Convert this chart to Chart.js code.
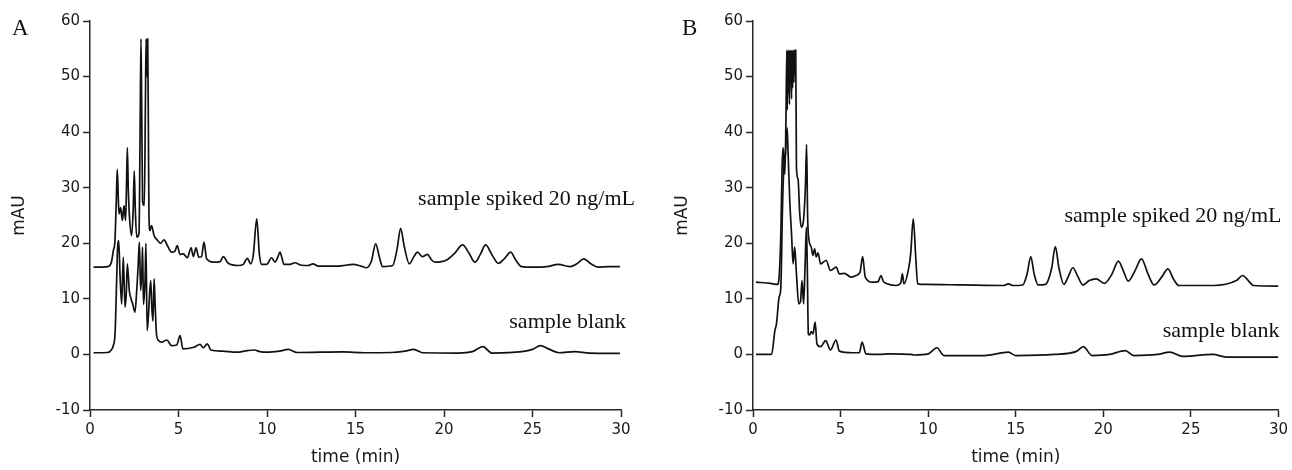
<!DOCTYPE html>
<html><head><meta charset="utf-8">
<script src="https://cdn.jsdelivr.net/npm/chart.js@4.4.1/dist/chart.umd.min.js"></script>
<style>
html,body{margin:0;padding:0;background:#fff;}
body{width:1292px;height:470px;position:relative;overflow:hidden;}
#wa{position:absolute;left:0;top:0;width:646px;height:470px;}
#wb{position:absolute;left:663px;top:0;width:629px;height:470px;}
</style></head><body>
<div id="wa"><canvas id="ca" width="646" height="470"></canvas></div>
<div id="wb"><canvas id="cb" width="629" height="470"></canvas></div>
<script>
// ---- tick labels ----
const xTicks = [0, 5, 10, 15, 20, 25, 30];
const yTicks = [-10, 0, 10, 20, 30, 40, 50, 60];
const xTitle = 'time (min)';
const yTitle = 'mAU';
const seriesNames = ['sample spiked 20 ng/mL', 'sample blank'];

// ---- Panel A, spiked sample ----
const aSpikedTime = [0.2,1.0,1.2,1.32,1.41,1.48,1.54,1.6,1.64,1.73,1.83,1.92,2.01,2.06,2.11,2.16,2.22,2.35,2.44,2.5,2.56,2.64,2.77,2.83,2.88,2.92,2.97,3.07,3.13,3.17,3.22,3.26,3.3,3.33,3.39,3.48,3.62,3.8,3.99,4.18,4.37,4.61,4.8,4.93,5.08,5.27,5.5,5.71,5.84,5.99,6.14,6.3,6.44,6.59,6.97,7.35,7.53,7.81,8.38,8.66,8.89,9.08,9.23,9.42,9.57,9.7,9.98,10.26,10.45,10.6,10.73,10.85,10.96,11.3,11.58,11.9,12.3,12.6,12.9,14.0,14.88,15.3,15.63,15.9,16.14,16.35,16.53,17.1,17.35,17.55,17.75,18.04,18.3,18.5,18.79,19.06,19.3,19.49,20.15,20.6,21.05,21.4,21.75,22.05,22.35,22.7,23.07,23.4,23.77,24.05,24.39,25.05,25.8,26.46,27.12,27.5,27.9,28.3,28.7,29.3,29.94];
const aSpikedMau  = [15.7,15.8,16.5,18.7,20.5,27,33.3,28,25.3,26.4,24.1,26.8,24.1,30,37.2,30,25.3,21.4,26,33,26,21.1,21.8,40,56.8,45,27.6,26.8,45,56.8,50,56.8,40,25.3,22.3,23.2,21.4,20.6,20,20.6,19.6,18.4,18.6,19.6,18,18.1,17.4,19.2,17.6,19.2,17.5,17.6,20.2,17.2,16.6,16.7,17.6,16.4,16,16.2,17.3,16.3,18,24.4,18,16.2,16.2,17.4,16.6,17.4,18.4,17.3,16.2,16.2,16.5,16.1,16,16.3,15.9,15.9,16.2,15.9,15.6,16.8,19.9,17.5,15.8,16,19,22.7,19.5,16.3,17.6,18.4,17.6,18,17,16.6,17,18.2,19.7,18.3,16.6,18,19.7,18,16.4,17.2,18.4,17,15.8,15.7,15.8,16.2,15.8,16.3,17.2,16.3,15.7,15.8,15.8];

// ---- Panel A, blank sample ----
const aBlankTime = [0.2,1.0,1.2,1.32,1.42,1.5,1.56,1.62,1.7,1.79,1.88,1.98,2.05,2.11,2.22,2.32,2.41,2.54,2.64,2.72,2.79,2.86,2.93,2.97,3.02,3.11,3.16,3.23,3.3,3.43,3.5,3.56,3.62,3.68,3.76,3.85,4.05,4.34,4.6,4.9,5.09,5.25,5.86,6.22,6.4,6.63,6.83,7.47,8.28,8.9,9.29,9.6,10.0,10.7,11.2,11.7,13.0,14.3,15.5,17.0,17.8,18.28,18.8,20.8,21.6,22.2,22.7,24.4,25.0,25.45,25.9,26.5,27.4,28.2,29.94];
const aBlankMau  = [0.3,0.35,0.8,1.6,4,12.7,19.3,20.5,14,9.1,17.5,8.5,11,16.3,11.5,10,9.1,7.6,11.5,16,20.2,11.5,15,19.3,9,13.3,20,4.3,7,13.3,8,6,13.6,9,3.5,2.6,2.2,2.6,1.6,1.7,3.4,1.0,1.3,1.8,1.2,1.9,0.8,0.6,0.4,0.7,0.8,0.5,0.4,0.6,0.9,0.35,0.4,0.45,0.3,0.35,0.6,0.9,0.3,0.25,0.5,1.4,0.25,0.5,0.9,1.6,1.0,0.3,0.5,0.25,0.2];

// ---- Panel B, spiked sample ----
const bSpikedTime = [0.17,1.0,1.4,1.49,1.59,1.66,1.72,1.82,1.88,1.93,1.96,1.99,2.02,2.05,2.08,2.11,2.14,2.17,2.2,2.23,2.27,2.3,2.34,2.37,2.44,2.48,2.57,2.67,2.76,2.85,2.99,3.06,3.12,3.2,3.33,3.42,3.52,3.61,3.71,3.86,4.18,4.42,4.75,4.93,5.22,5.6,5.88,6.11,6.26,6.41,6.82,7.15,7.3,7.45,7.58,8.15,8.43,8.53,8.62,8.9,9.0,9.15,9.3,9.4,9.85,12.0,14.3,14.58,14.85,15.4,15.65,15.86,16.05,16.28,16.7,17.05,17.26,17.47,17.75,18.0,18.26,18.55,18.83,19.2,19.59,20.06,20.5,20.86,21.15,21.42,21.8,22.18,22.55,22.9,23.35,23.69,24.0,24.32,26.3,27.6,27.96,28.3,28.57,30];
const bSpikedMau  = [13.0,12.8,12.6,13.9,21.7,33.6,37.2,32.4,42,54.7,44,54.7,47,54.7,45,54.7,50,54.7,46,54.7,48,54.7,49,54.7,54.7,33.6,31.6,25.3,22.9,23.4,30,37.8,24.6,20.5,19.3,17.8,19,17.5,18.3,16.3,16.9,15.1,15.7,14.5,14.6,13.9,14.2,14.8,17.6,13.9,13.0,13.1,14.2,13.1,12.8,12.4,12.8,14.5,12.7,15.7,18,24.4,17,12.7,12.6,12.5,12.4,12.7,12.4,12.5,14.5,17.6,14.5,12.5,12.6,15.5,19.4,15.5,12.6,14,15.6,14,12.5,13.3,13.6,12.8,14.5,16.8,15,13.2,15,17.2,14.5,12.5,14,15.4,13.6,12.4,12.4,13.3,14.2,13.2,12.4,12.3];

// ---- Panel B, blank sample ----
const bBlankTime = [0.17,1.06,1.25,1.34,1.49,1.59,1.68,1.76,1.85,1.95,2.0,2.1,2.2,2.29,2.38,2.48,2.61,2.71,2.8,2.89,2.97,3.05,3.1,3.16,3.23,3.33,3.42,3.55,3.65,3.86,4.15,4.42,4.74,4.93,5.69,6.07,6.23,6.45,7.2,7.8,9.0,9.2,10.0,10.5,10.9,13.2,14.58,15.0,17.2,18.5,18.86,19.36,20.36,21.25,21.75,23.1,23.79,24.54,26.24,27.1,29.12,30];
const bBlankMau  = [0,0,4.3,5.5,10.3,12.1,25.9,33.6,36,40.8,36.6,27.6,21.7,16.3,19.3,14.5,9.1,9.5,13.3,9.1,15.7,22.9,15.7,3.7,3.5,4.1,3.7,5.8,1.9,1.4,2.5,0.8,2.6,0.6,0.3,0.3,2.2,0.1,0,0.1,0,-0.1,0.1,1.2,-0.2,-0.2,0.4,-0.2,0,0.6,1.4,-0.2,0,0.7,-0.2,0,0.4,-0.35,0,-0.5,-0.5,-0.5];

// label anchors (mAU value of text baseline) per panel
const aLabelMau = [26.9, 4.7];
const bLabelMau = [23.9, 3.1];

const INK = '#111111';
const AXIS = '#262626';

function pts(t, v) { return t.map((x, i) => ({ x: x, y: v[i] })); }

function makeChart(id, cfg) {
  const notePlugin = {
    id: 'notes',
    afterDraw(chart) {
      const ctx = chart.ctx, ca = chart.chartArea, ys = chart.scales.y;
      ctx.save();
      ctx.fillStyle = INK;
      ctx.font = '22px "Liberation Serif", "Times New Roman", serif';
      ctx.textAlign = 'right';
      ctx.textBaseline = 'alphabetic';
      cfg.notes.forEach(n => ctx.fillText(n.text, ca.right + n.dx, ys.getPixelForValue(n.y)));
      ctx.font = '23px "Liberation Serif", "Times New Roman", serif';
      ctx.textAlign = 'left';
      ctx.fillText(cfg.panel, cfg.panelX, 35);
      ctx.restore();
    }
  };
  return new Chart(document.getElementById(id), {
    type: 'line',
    data: {
      datasets: cfg.series.map((s, i) => ({
        label: seriesNames[i],
        data: s,
        borderColor: INK,
        borderWidth: 1.7,
        pointRadius: 0,
        fill: false,
        cubicInterpolationMode: 'monotone'
      }))
    },
    options: {
      responsive: false,
      animation: false,
      devicePixelRatio: 1,
      layout: { padding: { top: 21, right: cfg.padRight, left: 0, bottom: 0 } },
      plugins: { legend: { display: false }, tooltip: { enabled: false } },
      scales: {
        x: {
          type: 'linear', min: 0, max: 30,
          afterBuildTicks: s => { s.ticks = xTicks.map(v => ({ value: v })); },
          afterFit: s => { s.height = 60; },
          grid: { drawOnChartArea: false, drawTicks: true, tickLength: 7, tickWidth: 1.5, tickColor: AXIS },
          border: { display: true, color: AXIS, width: 1.5 },
          ticks: { color: '#1a1a1a', padding: 4, font: { family: '"DejaVu Sans"', size: 15 }, maxRotation: 0 },
          title: { display: true, text: xTitle, color: '#1a1a1a', font: { family: '"DejaVu Sans"', size: 17 }, padding: { top: 4, bottom: 2 } }
        },
        y: {
          type: 'linear', min: -10, max: 60,
          afterBuildTicks: s => { s.ticks = yTicks.map(v => ({ value: v })); },
          afterFit: s => { s.width = 90; },
          grid: { drawOnChartArea: false, drawTicks: true, tickLength: 7, tickWidth: 1.5, tickColor: AXIS },
          border: { display: true, color: AXIS, width: 1.5 },
          ticks: { color: '#1a1a1a', padding: 3, font: { family: '"DejaVu Sans"', size: 15 } },
          title: { display: true, text: yTitle, color: '#1a1a1a', font: { family: '"DejaVu Sans"', size: 17 }, padding: { top: 9, bottom: 0 } }
        }
      }
    },
    plugins: [notePlugin]
  });
}

makeChart('ca', {
  series: [pts(aSpikedTime, aSpikedMau), pts(aBlankTime, aBlankMau)],
  padRight: 25,
  panel: 'A', panelX: 12,
  notes: [
    { text: seriesNames[0], y: aLabelMau[0], dx: 14 },
    { text: seriesNames[1], y: aLabelMau[1], dx: 5 }
  ]
});
makeChart('cb', {
  series: [pts(bSpikedTime, bSpikedMau), pts(bBlankTime, bBlankMau)],
  padRight: 10,
  panel: 'B', panelX: 19,
  notes: [
    { text: seriesNames[0], y: bLabelMau[0], dx: 3 },
    { text: seriesNames[1], y: bLabelMau[1], dx: 1 }
  ]
});
</script>
</body></html>
